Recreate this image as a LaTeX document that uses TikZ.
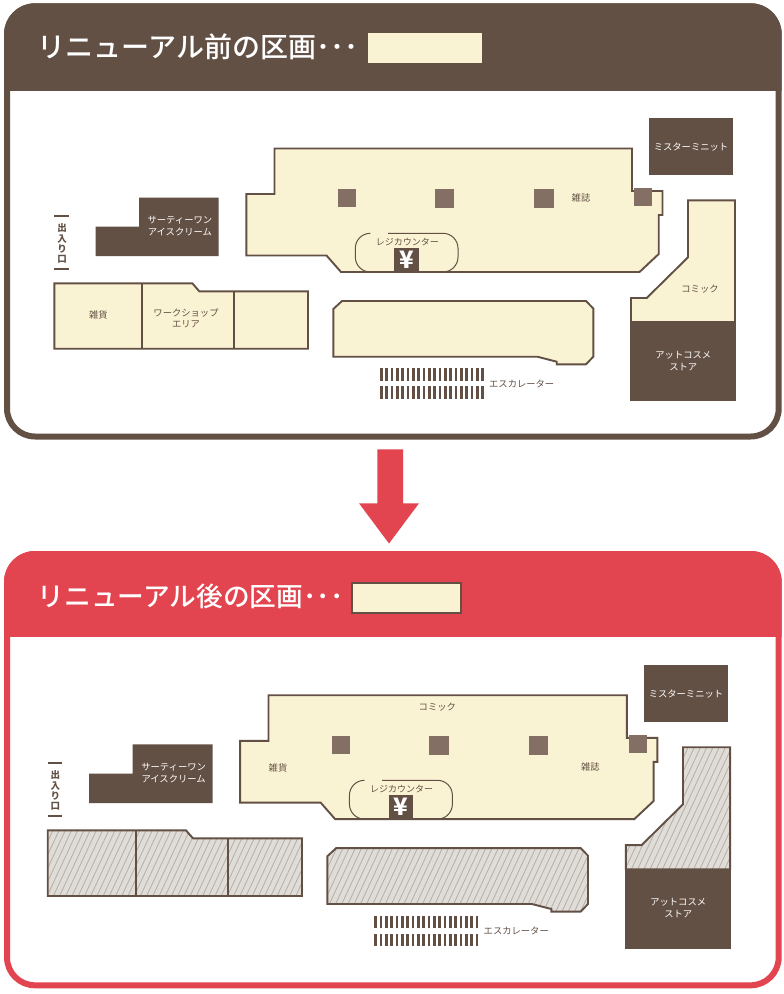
\documentclass[tikz,border=0pt]{standalone}
\usepackage{fontspec}
\setmainfont{Noto Sans CJK JP}
\newfontfamily\titlefont{Noto Sans CJK JP Medium}
\definecolor{planbrown}{HTML}{635045}
\definecolor{plancream}{HTML}{FAF3D3}
\definecolor{planred}{HTML}{E2454F}
\definecolor{planpillar}{HTML}{836F64}
\definecolor{hatchbg}{HTML}{E0DCD7}
\definecolor{hatchline}{HTML}{B4AEA7}
\tikzset{
  wall/.style={draw=planbrown, line width=1.9pt, line join=miter},
  floorarea/.style={wall, fill=plancream},
  darkarea/.style={fill=planbrown},
  pillar/.style={fill=planpillar},
  planlabel/.style={text=planbrown, inner sep=0pt, align=center, yshift=-0.4pt, font=\fontsize{9.3pt}{11.7pt}\selectfont},
  darklabel/.style={planlabel, text=white, font=\fontsize{9.3pt}{11.7pt}\selectfont},
  titlelabel/.style={text=white, inner sep=0pt, anchor=west},
}
% plan outlines, in the coordinates of the upper plan
\def\mainpath{(274.5,148.5) -- (632,148.5) -- (632,191) -- (662.5,191) -- (662.5,215) -- (658.7,215) -- (658.7,254) -- (639.5,272) -- (341,272) -- (326.5,255.5) -- (246.3,255.5) -- (246.3,194) -- (274.5,194) -- cycle}
\def\shopspath{(54.3,283.3) -- (192.3,283.3) -- (199.3,291.3) -- (308,291.3) -- (308,348.7) -- (54.3,348.7) -- cycle}
\def\middlepath{(333.3,309) -- (342,301) -- (586,301) -- (593.3,308.5) -- (593.3,356.7) -- (586,364.3) -- (556.7,364.3) -- (556.7,361.7) -- (537.3,356.7) -- (333.3,356.7) -- cycle}
\def\comicpath{(688,200.3) -- (735,200.3) -- (735,322) -- (631,322) -- (631,298) -- (646.7,298) -- (688,257.3) -- cycle}
\newcommand{\hatchfill}[1]{%
  \begin{scope}
    \clip #1;
    \fill[hatchbg] (0,190) rectangle (800,420);
    \foreach \i in {-60,-53.8,...,800} {
      \draw[hatchline, line width=0.8pt] (\i,420) -- (\i+107,190);
    }
  \end{scope}
}
\newcommand{\dividers}{%
  \draw[wall] (142.3,283.3) -- (142.3,348.7);
  \draw[wall] (233.7,291.3) -- (233.7,348.7);
}
% everything that both plans have in common
\newcommand{\planbase}[1]{%
  \draw[floorarea] \mainpath;
  \fill[pillar] (338,189) rectangle (356,207);
  \fill[pillar] (435,189) rectangle (454.3,208);
  \fill[pillar] (534.3,189) rectangle (553.7,208);
  \fill[pillar] (634.3,188) rectangle (652,206);
  \draw[planbrown, line width=1pt, rounded corners=15pt] (370,233.3) -- (355.3,233.3) -- (355.3,272) -- (375,272);
  \draw[planbrown, line width=1pt, rounded corners=15pt] (388,233.3) -- (458,233.3) -- (458,272) -- (438,272);
  \fill[darkarea] (394.3,248.3) rectangle (419,272);
  \node[text=white, inner sep=0pt, font=\fontsize{24pt}{24pt}\selectfont\bfseries] (#1yen) at (406.6,259.6) {¥};
  \node[planlabel, font=\fontsize{9pt}{11.7pt}\selectfont] (#1counter) at (407.3,241.7) {レジカウンター};
  \fill[darkarea] (139,197.5) -- (218.7,197.5) -- (218.7,256) -- (95.7,256) -- (95.7,226.7) -- (139,226.7) -- cycle;
  \node[darklabel] (#1icecream) at (179.9,225.8) {サーティーワン\\アイスクリーム};
  \draw[planbrown, line width=1.6pt] (54.3,216) -- (69,216);
  \draw[planbrown, line width=1.6pt] (54.3,269) -- (69,269);
  \node[planlabel, font=\fontsize{9.5pt}{10.4pt}\selectfont\bfseries] (#1entrance) at (62,243.3) {出\\入\\り\\口};
  \fill[darkarea] (649.3,118.3) rectangle (733.3,175.3);
  \node[darklabel] (#1minit) at (691,146.8) {ミスターミニット};
  \fill[darkarea] (630.3,322) rectangle (735.7,401.3);
  \node[darklabel] (#1store) at (683.3,360.6) {アットコスメ\\ストア};
  \foreach \i in {0,...,19} {
    \fill[darkarea] (380+5.33*\i,368.3) rectangle (382.7+5.33*\i,381);
    \fill[darkarea] (380+5.33*\i,386.3) rectangle (382.7+5.33*\i,399);
  }
  \node[planlabel] (#1escalator) at (521.7,383.5) {エスカレーター};
}
\newcommand{\panel}[4]{%
  \draw[#1, line width=6pt, fill=white, rounded corners=28pt] (7,#2+3) rectangle (778.7,#3-3);
  \begin{scope}
    \clip[rounded corners=31pt] (4,#2) rectangle (781.7,#3);
    \fill[#1] (4,#2) rectangle (781.7,#4);
  \end{scope}
}

\begin{document}
\begin{tikzpicture}[x=1pt, y=-1pt]
\useasboundingbox (0,0) rectangle (784,994);
\fill[white] (0,0) rectangle (784,994);
% before
\panel{planbrown}{3.3}{439.5}{91}
\node[titlelabel, font=\fontsize{28pt}{28pt}\titlefont] (titlebefore) at (37.5,47) {リニューアル前の区画･･･};
\fill[plancream] (368.3,32.5) rectangle (481.7,62.7);
\draw[floorarea] \shopspath;
\dividers
\node[planlabel] (goodsbefore) at (98.3,315) {雑貨};
\node[planlabel] (workshop) at (186,318) {ワークショップ\\エリア};
\draw[floorarea] \middlepath;
\draw[floorarea] \comicpath;
\node[planlabel] (comicbefore) at (700,288.3) {コミック};
\planbase{a}
\node[planlabel] (magazinebefore) at (581,198) {雑誌};
% arrow
\fill[planred] (377.3,449.3) -- (403,449.3) -- (403,503.3) -- (419,503.3) -- (389,543.5) -- (359,503.3) -- (377.3,503.3) -- cycle;
% after
\panel{planred}{551}{988.3}{637.3}
\node[titlelabel, font=\fontsize{26.7pt}{26.7pt}\titlefont] (titleafter) at (37.5,596.5) {リニューアル後の区画･･･};
\draw[wall, fill=plancream] (351.8,582.8) rectangle (461.2,613.2);
\begin{scope}[shift={(-6.7,546.4)}, xscale=1.0024, yscale=1.0025]
\hatchfill{\shopspath}
\draw[wall] \shopspath;
\dividers
\hatchfill{\middlepath}
\draw[wall] \middlepath;
\hatchfill{\comicpath}
\draw[wall] \comicpath;
\planbase{b}
\end{scope}
\node[planlabel] (comicafter) at (437.3,706.7) {コミック};
\node[planlabel] (goodsafter) at (278,767.3) {雑貨};
\node[planlabel] (magazineafter) at (590.3,766.3) {雑誌};
\end{tikzpicture}
\end{document}
